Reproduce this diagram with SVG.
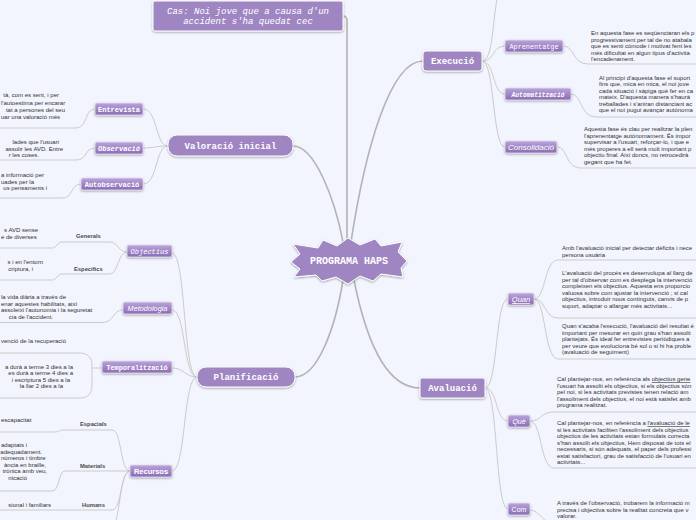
<svg xmlns="http://www.w3.org/2000/svg" width="696" height="520" viewBox="0 0 696 520">
<defs>
<linearGradient id="g" x1="0" y1="0" x2="0" y2="1"><stop offset="0" stop-color="#b9a4d9"/><stop offset="1" stop-color="#8a6bb4"/></linearGradient>
<filter id="sh" x="-10%" y="-30%" width="120%" height="180%"><feDropShadow dx="0" dy="1" stdDeviation="0.8" flood-color="#000" flood-opacity="0.35"/></filter>
</defs>
<style>
.main{fill:none;stroke:#b3b3b3;stroke-width:1.6}
.sub{fill:none;stroke:#cbcbcb;stroke-width:1}
.big{fill:#9f86c3;stroke:#fff;stroke-width:1;filter:url(#sh)}
.sm{fill:url(#g);stroke:#e6ddf2;stroke-width:0.8;filter:url(#sh)}
.bl{font-family:"Liberation Mono",monospace;font-weight:bold;font-size:9px;fill:#fff;text-anchor:middle}
.ml{font-family:"Liberation Mono",monospace;font-weight:bold;font-size:7px;fill:#fff;text-anchor:middle}
.sl{font-family:"Liberation Sans",Arial,sans-serif;font-size:7.5px;fill:#fff;text-anchor:middle}
.t{font-family:"Liberation Sans",Arial,sans-serif;font-size:6px;fill:#333}
.te{font-family:"Liberation Sans",Arial,sans-serif;font-size:6px;fill:#333;text-anchor:end}
.lb{font-family:"Liberation Sans",Arial,sans-serif;font-size:5.8px;font-weight:bold;fill:#4a4a4a}
</style>
<rect width="696" height="520" fill="#f2f5fd"/>

<g id="connectors">
<path class="main" d="M343,16 Q347,16 347,21 V242"/>
<path class="main" d="M351,242 C365,150 390,61 423,61"/>
<path class="main" d="M343,242 C335,200 315,146 293,146"/>
<path class="main" d="M343,280 C335,330 317,377 295,377"/>
<path class="main" d="M354,280 C366,340 386,388 420,388"/>
<path class="sub" d="M482,61 C495,61 492,5 500,-10"/>
<path class="sub" d="M482,61 C495,61 492,46 505,46"/>
<path class="sub" d="M482,61 C495,61 492,94 505,94"/>
<path class="sub" d="M482,61 C495,61 492,147 505,147"/>
<path class="sub" d="M563,46 C575,46 572,64 588,64 H696"/>
<path class="sub" d="M571,94 C582,94 580,117 596,117 H696"/>
<path class="sub" d="M557,147 C568,147 565,168 581,168 H696"/>
<path class="sub" d="M485,388 C498,388 495,299 508,299"/>
<path class="sub" d="M485,388 C498,388 495,421 508,421"/>
<path class="sub" d="M485,388 C498,388 495,509 508,509"/>
<path class="sub" d="M534,299 C546,299 544,260 558,260 H696"/>
<path class="sub" d="M534,299 C546,299 544,318 558,318 H696"/>
<path class="sub" d="M534,299 C546,299 544,359 558,359 H696"/>
<path class="sub" d="M530,421 C542,421 540,412 554,412 H696"/>
<path class="sub" d="M530,421 C542,421 540,468 554,468 H696"/>
<path class="sub" d="M530,510 C540,510 542,524 556,524"/>
<path class="sub" d="M168,146 C155,146 158,109 143,109"/>
<path class="sub" d="M168,146 C155,146 155,148 143,148"/>
<path class="sub" d="M168,146 C155,146 158,184 143,184"/>
<path class="sub" d="M95,109 C84,109 88,128 76,128 H0"/>
<path class="sub" d="M95,148 C84,148 88,160 76,160 H0"/>
<path class="sub" d="M81,184 C70,184 74,198 62,198 H0"/>
<path class="sub" d="M197,377 C183,377 186,253 172,253"/>
<path class="sub" d="M197,377 C183,377 186,310 172,310"/>
<path class="sub" d="M197,377 C185,377 184,368 172,368"/>
<path class="sub" d="M197,377 C183,377 186,471 172,471"/>
<path class="sub" d="M127,252 C118,252 118,242 110,242 H62 C57,242 57,248 52,248 H0"/>
<path class="sub" d="M127,252 C118,252 118,274 110,274 H62 C57,274 57,280 52,280 H0"/>
<path class="sub" d="M123,310 C112,310 115,322.5 102,322.5 H0"/>
<path class="sub" d="M102,368 H92"/>
<path class="sub" d="M0,353 H80 C88,353 92,358 92,365 V386 C92,393 88,398 80,398 H0"/>
<path class="sub" d="M130,471 C120,471 122,430 112,430 H64 C58,430 60,432 54,432 H0"/>
<path class="sub" d="M130,471 H65 C58,471 60,491 52,491 H0"/>
<path class="sub" d="M130,471 C120,471 122,510 112,510 H0"/>
<path class="sub" d="M130,471 C120,471 120,518 113,530"/>
</g>

<g id="title">
<rect class="big" x="153" y="1" width="190" height="30" rx="2"/>
<text class="bl" x="248" y="14" style="font-weight:normal;font-style:italic">Cas: Noi jove que a causa d'un</text>
<text class="bl" x="248" y="24" style="font-weight:normal;font-style:italic">accident s'ha quedat cec</text>
</g>

<g id="center">
<polygon class="big" points="291,262 300,254 293,244 318,248 323,240 337,246 348,238 360,245 375,239 381,246 402,242 398,252 407,261 401,268 403,277 381,274 373,281 360,276 348,284 336,277 322,281 316,275 294,277 300,269"/>
<text class="bl" x="349" y="264" style="font-size:10px">PROGRAMA HAPS</text>
</g>

<g id="valoracio">
<rect class="big" x="168" y="135" width="125" height="21" rx="9"/>
<text class="bl" x="230.5" y="148.5">Valoració inicial</text>
</g>
<g id="planificacio">
<rect class="big" x="197" y="367" width="98" height="20" rx="9"/>
<text class="bl" x="246" y="380">Planificació</text>
</g>
<g id="execucio">
<rect class="big" x="423" y="51" width="59" height="20" rx="3"/>
<text class="bl" x="452.5" y="64">Execució</text>
</g>
<g id="avaluacio">
<rect class="big" x="420" y="378" width="65" height="20" rx="2"/>
<text class="bl" x="452.5" y="391">Avaluació</text>
</g>

<g id="entrevista">
<rect class="sm" x="95" y="103" width="48" height="12" rx="2"/>
<text class="ml" x="119" y="111.5">Entrevista</text>
</g>
<g id="observacio">
<rect class="sm" x="95" y="142" width="48" height="12" rx="2"/>
<text class="ml" x="119" y="150.5" style="font-style:italic">Observació</text>
</g>
<g id="autobservacio">
<rect class="sm" x="81" y="178" width="62" height="12" rx="2"/>
<text class="ml" x="112" y="186.5">Autobservació</text>
</g>
<g id="objectius">
<rect class="sm" x="127" y="245" width="45" height="12" rx="2"/>
<text class="ml" x="149.5" y="253.5" style="font-style:italic;font-weight:normal">Objectius</text>
</g>
<g id="metodologia">
<rect class="sm" x="123" y="302" width="49" height="12" rx="2"/>
<text class="sl" x="147.5" y="310.5" style="font-style:italic;font-size:7.3px">Metodologia</text>
</g>
<g id="temporalitzacio">
<rect class="sm" x="102" y="361" width="70" height="12" rx="2"/>
<text class="ml" x="137" y="369.5" style="font-size:6.8px">Temporalització</text>
</g>
<g id="recursos">
<rect class="sm" x="130" y="465" width="42" height="12" rx="2"/>
<text class="sl" x="151" y="473.5" style="font-weight:bold">Recursos</text>
</g>
<g id="aprenentatge">
<rect class="sm" x="505" y="40" width="58" height="12" rx="2"/>
<text class="ml" x="534" y="48.5" style="font-size:6.8px;font-weight:normal">Aprenentatge</text>
</g>
<g id="automatitzacio">
<rect class="sm" x="505" y="88" width="66" height="12" rx="2"/>
<text class="ml" x="538" y="96.5" style="font-size:6.3px;font-style:italic">Automatització</text>
</g>
<g id="consolidacio">
<rect class="sm" x="505" y="141" width="52" height="12" rx="2"/>
<text class="sl" x="531" y="150" style="font-style:italic;font-size:8px">Consolidació</text>
</g>
<g id="quan">
<rect class="sm" x="508" y="293" width="26" height="12" rx="2"/>
<text class="sl" x="521" y="302" style="font-style:italic;text-decoration:underline">Quan</text>
</g>
<g id="que">
<rect class="sm" x="508" y="415" width="22" height="12" rx="2"/>
<text class="sl" x="519" y="424" style="font-style:italic;font-size:7px">Què</text>
</g>
<g id="com">
<rect class="sm" x="508" y="503" width="22" height="12" rx="2"/>
<text class="sl" x="519" y="512" style="font-size:7px">Com</text>
</g>

<g id="labels">
<text class="lb" x="76" y="238">Generals</text>
<text class="lb" x="74" y="271">Específics</text>
<text class="lb" x="80" y="426">Espacials</text>
<text class="lb" x="80" y="468">Materials</text>
<text class="lb" x="82" y="507">Humans</text>
</g>

<g id="text-aprenentatge">
<text class="t" x="591" y="35">En aquesta fase es seqüenciaran els p</text>
<text class="t" x="591" y="41.5">progressivament per tal de no atabala</text>
<text class="t" x="591" y="48">que es senti còmode i motivat fent les</text>
<text class="t" x="591" y="54.5">més dificultat en algun tipus d'activita</text>
<text class="t" x="591" y="61">l'encadenament.</text>
</g>
<g id="text-automatitzacio">
<text class="t" x="599" y="79.5">Al principi d'aquesta fase el suport</text>
<text class="t" x="599" y="86">fins que, mica en mica, el noi jove</text>
<text class="t" x="599" y="92.5">cada situació i sàpiga què fer en ca</text>
<text class="t" x="599" y="99">mateix. D'aquesta manera s'haurà</text>
<text class="t" x="599" y="105.5">treballades i s'aniran distanciant ac</text>
<text class="t" x="599" y="112">que el noi pugui avançar autònoma</text>
</g>
<g id="text-consolidacio">
<text class="t" x="584" y="131">Aquesta fase és clau per realitzar la plen</text>
<text class="t" x="584" y="137.5">l'aprenentatge autònomament. És impor</text>
<text class="t" x="584" y="144">supervisar a l'usuari, reforçar-lo, i que e</text>
<text class="t" x="584" y="150.5">més properes a ell serà molt important p</text>
<text class="t" x="584" y="157">objectiu final. Així doncs, no retrocedirà</text>
<text class="t" x="584" y="163.5">gegant que ha fet.</text>
</g>
<g id="text-quan-1">
<text class="t" x="562" y="250">Amb l'avaluació inicial per detectar dèficits i nece</text>
<text class="t" x="562" y="256.5">persona usuària</text>
</g>
<g id="text-quan-2">
<text class="t" x="562" y="275">L'avaluació del procés es desenvolupa al llarg de</text>
<text class="t" x="562" y="281.5">per tal d'observar com es desplega la intervenció</text>
<text class="t" x="562" y="288">compleixen els objectius. Aquesta ens proporcio</text>
<text class="t" x="562" y="294.5">valuosa sobre com ajustar la intervenció  ; si cal</text>
<text class="t" x="562" y="301">objectius, introduir nous continguts, canvis de p</text>
<text class="t" x="562" y="307.5">suport, adaptar o allargar més activitats...</text>
</g>
<g id="text-quan-3">
<text class="t" x="562" y="328">Quan s'acaba l'execució, l'avaluació del resultat é</text>
<text class="t" x="562" y="334.5">important per mesurar en quin grau s'han assolit</text>
<text class="t" x="562" y="341">plantejats. És ideal fer entrevistes periòdiques a</text>
<text class="t" x="562" y="347.5">per veure que evoluciona bé sol o si hi ha proble</text>
<text class="t" x="562" y="354">(avaluació de seguiment)</text>
</g>
<g id="text-que-1">
<text class="t" x="557" y="381">Cal plantejar-nos, en referència als <tspan text-decoration="underline">objectius gene</tspan></text>
<text class="t" x="557" y="387.5">l'usuari ha assolit els objectius, si els objectius són</text>
<text class="t" x="557" y="394">pel noi, si les activitats previstes tenen relació am</text>
<text class="t" x="557" y="400.5">l'assoliment dels objectius, el noi està satisfet amb</text>
<text class="t" x="557" y="407">programa realitzat.</text>
</g>
<g id="text-que-2">
<text class="t" x="557" y="425">Cal plantejar-nos, en referència a <tspan text-decoration="underline">l'avaluació de le</tspan></text>
<text class="t" x="557" y="431.5">si les activitats faciliten l'assoliment dels objectius</text>
<text class="t" x="557" y="438">objectius de les activitats estan formulats correcta</text>
<text class="t" x="557" y="444.5">s'han assolit els objectius, Hem disposat de tots el</text>
<text class="t" x="557" y="451">necessaris, si són adequats, el paper dels professi</text>
<text class="t" x="557" y="457.5">estat satisfactori, grau de satisfacció de l'usuari en</text>
<text class="t" x="557" y="464">activitats...</text>
</g>
<g id="text-com">
<text class="t" x="557" y="505">A través de l'observació, trobarem la informació m</text>
<text class="t" x="557" y="511.5">precisa i objectiva sobre la realitat concreta que v</text>
<text class="t" x="557" y="518">valorar.</text>
</g>

<g id="text-entrevista">
<text class="te" x="59" y="97">tà, com es sent, i per</text>
<text class="t" x="1" y="104.5">l'autoestima per encarar</text>
<text class="te" x="65" y="111.5">tat a persones del seu</text>
<text class="t" x="1" y="118.5">uar una valoració més</text>
</g>
<g id="text-observacio">
<text class="te" x="59" y="143.5">lades que l'usuari</text>
<text class="te" x="63" y="150.5">assolir les AVD. Entre</text>
<text class="te" x="39" y="157">r les coses.</text>
</g>
<g id="text-autobservacio">
<text class="t" x="1" y="177">a informació per</text>
<text class="t" x="1" y="183.5">uades per la</text>
<text class="te" x="47" y="190">us pensaments i</text>
</g>
<g id="text-generals">
<text class="te" x="38" y="232">s AVD sense</text>
<text class="t" x="1" y="238.5">e de diverses</text>
</g>
<g id="text-especifics">
<text class="te" x="43" y="264">s i en l'entorn</text>
<text class="te" x="33" y="271">criptura, i</text>
</g>
<g id="text-metodologia">
<text class="t" x="1" y="299">la vida diària a través de</text>
<text class="t" x="1" y="305.5">enar aquestes habilitats, així</text>
<text class="t" x="1" y="312">assoleixi l'autonomia i la seguretat</text>
<text class="te" x="53" y="318.5">cia de l'accident.</text>
</g>
<g id="text-temporalitzacio">
<text class="t" x="1" y="343">venció de la recuperació</text>
<text class="te" x="73" y="368.5">a durà a terme  3 dies a la</text>
<text class="te" x="73" y="375">es durà a terme 4 dies a</text>
<text class="te" x="70" y="381.5">i escriptura 5 dies a la</text>
<text class="te" x="63" y="388">la llar 2 dies a la</text>
</g>
<g id="text-recursos">
<text class="t" x="1" y="422">escapacitat</text>
<text class="t" x="1" y="447">adaptats i</text>
<text class="te" x="42" y="453.5">adequadament.</text>
<text class="t" x="1" y="460">números i timbre</text>
<text class="te" x="46" y="466.5">ància en braille,</text>
<text class="te" x="47" y="473">trònica amb veu,</text>
<text class="te" x="27" y="479.5">nicació</text>
<text class="te" x="51" y="507">sional i familiars</text>
</g>
</svg>
